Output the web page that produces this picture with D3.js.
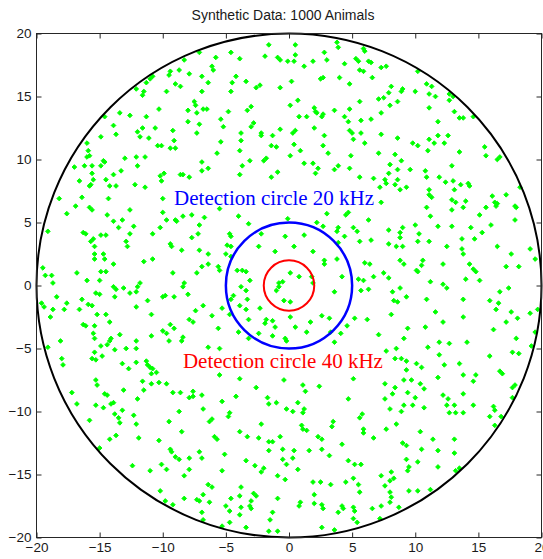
<!DOCTYPE html>
<html>
<head>
<meta charset="utf-8">
<script src="https://cdn.jsdelivr.net/npm/d3@7"></script>
<style>
  body { margin: 0; background: #ffffff; }
  svg { display: block; }
</style>
</head>
<body>
<div class="chart"></div>
<script>
// values
const title = 'Synthetic Data: 1000 Animals';
const xTicks = [-20, -15, -10, -5, 0, 5, 10, 15, 20];
const yTicks = [-20, -15, -10, -5, 0, 5, 10, 15, 20];
const domain = [-20, 20];

// survey area and the two detection circles (radius in data units)
const circleRadii = [20, 5, 2];
const circleColors = ['#000000', '#0000ff', '#ff0000'];
const circleWidths = [2, 2.5, 2];

const labelTexts = ['Detection circle 20 kHz', 'Detection circle 40 kHz'];
const labelX = [-9.1, -8.4];
const labelY = [7, -6];
const labelColors = ['#0000ff', '#ff0000'];

// animal positions [x, y]
const animals = [
  // upper left
  [-7.1,18.5],[-8.3,17.9],[-9.4,17.0],[-9.5,16.7],[-8.7,17.1],[-7.9,16.8],[-9.0,16.0],[-8.6,15.8],[-10.8,16.6],[-11.3,16.1],
  [-11.0,16.4],[-12.1,15.6],[-11.5,15.4],[-11.6,15.1],[-9.7,15.4],[-6.9,16.6],[-6.9,15.4],[-7.5,14.6],[-7.4,14.3],[-8.0,13.9],
  [-7.3,13.7],[-6.8,14.0],[-10.3,14.0],[-13.4,13.7],[-12.6,13.5],[-11.3,13.4],[-14.6,13.4],[-13.9,12.7],[-13.7,12.0],[-11.6,12.5],
  [-10.6,12.5],[-12.0,12.2],[-11.8,11.8],[-11.1,11.7],[-9.2,12.3],[-9.1,11.5],[-9.4,10.9],[-9.0,10.9],[-10.4,11.1],[-10.1,11.1],
  [-8.0,13.0],[-7.1,12.8],[-7.3,12.1],[-14.9,11.8],[-16.0,11.3],[-15.9,10.7],[-16.0,10.2],[-15.8,10.3],[-14.7,9.9],[-14.6,9.8],
  [-17.0,9.4],[-16.2,9.5],[-15.6,9.5],[-14.9,9.5],[-13.0,10.1],[-12.1,10.2],[-11.4,10.2],[-12.0,9.5],[-6.9,9.8],[-6.9,9.1],
  [-13.3,9.1],[-13.9,8.8],[-14.5,8.4],[-15.6,8.9],[-15.5,8.4],[-15.7,8.0],[-16.6,8.3],[-15.8,7.9],[-14.2,7.9],[-13.7,7.9],
  [-12.2,8.0],[-11.4,7.8],[-10.2,8.7],[-9.9,8.9],[-10.1,8.3],[-8.6,8.8],[-8.4,8.8],[-7.9,8.6],[-18.2,6.9],[-16.4,7.0],
  [-14.3,6.9],[-10.0,6.9],[-16.9,6.3],[-17.6,5.7],[-15.8,6.2],[-15.6,6.0],[-12.6,6.0],[-14.4,5.6],[-10.0,5.8],[-9.7,5.2],
  [-9.0,5.2],[-8.4,5.5],[-7.7,5.6],[-6.7,5.4],[-13.9,5.1],[-13.2,5.2],[-13.5,4.6],[-12.3,4.7],[-19.1,4.3],[-16.3,4.2],
  [-16.1,4.1],[-10.2,4.6],[-8.9,5.1],[-7.1,4.8],[-10.8,4.1],[-12.6,4.1],[-7.7,3.8],[-7.2,4.1],[-14.9,4.0],[-14.5,4.0],
  [-15.5,3.7],[-15.7,3.5],[-15.4,3.1],[-12.9,3.5],[-12.8,3.1],[-9.4,3.3],[-9.3,3.1],[-8.5,2.8],[-7.1,2.8],[-15.4,2.5],
  [-14.7,2.5],[-14.6,2.1],[-15.4,2.1],[-11.5,1.9],[-10.8,2.1],[-13.9,1.7],[-14.9,1.1],[-14.5,1.1],[-16.8,1.0],[-19.5,1.4],
  [-19.3,0.8],[-18.8,0.8],[-18.7,0.2],[-16.0,0.4],[-15.0,0.4],[-11.8,0.2],[-8.3,0.2],[-9.2,1.0],[-7.3,1.0],[-6.9,1.5],
  // upper middle
  [-1.6,19.1],[0.5,19.1],[3.8,19.3],[3.9,18.9],[5.9,18.8],[6.0,18.6],[-4.6,18.5],[-5.8,18.1],[-3.9,18.0],[-1.9,18.2],
  [-0.9,18.1],[-0.7,17.9],[-0.1,17.8],[0.4,17.8],[0.5,18.3],[1.9,17.8],[2.8,18.5],[3.0,17.9],[5.3,18.0],[5.5,17.8],
  [4.4,17.6],[6.3,17.8],[6.5,17.7],[-6.1,17.4],[-6.0,17.1],[1.2,17.4],[5.6,17.1],[5.9,17.0],[-4.2,16.6],[-3.4,16.2],
  [-6.4,16.1],[-4.5,16.1],[-2.6,15.7],[-2.3,15.9],[-4.6,15.4],[-0.7,15.7],[0.2,16.2],[2.5,16.4],[2.7,16.5],[4.0,16.5],
  [4.8,16.0],[6.6,16.5],[0.7,14.7],[0.1,14.3],[2.0,14.1],[5.6,14.6],[-3.0,14.2],[-3.3,13.9],[-4.8,13.8],[-6.5,14.0],
  [2.2,13.7],[2.1,13.8],[2.6,13.4],[2.7,13.6],[3.6,13.9],[4.8,14.0],[4.4,13.4],[0.8,13.4],[1.4,13.4],[5.7,13.1],
  [6.5,13.2],[-5.4,13.2],[-5.2,12.6],[-2.8,12.9],[-3.0,12.6],[-0.7,12.4],[0.5,12.3],[0.3,12.1],[2.0,12.5],[4.7,13.0],
  [4.8,12.3],[5.0,12.1],[5.1,11.6],[5.7,12.1],[-3.8,12.1],[-2.2,12.1],[-2.2,11.9],[-1.3,11.9],[-3.8,11.5],[-5.4,11.4],
  [0.4,11.2],[2.8,11.9],[2.7,11.1],[6.0,11.3],[-1.4,11.1],[-1.0,11.0],[-3.9,10.7],[-5.7,10.5],[-1.8,10.1],[-2.0,9.9],
  [-3.1,9.9],[0.1,10.3],[0.9,10.7],[1.9,9.7],[3.1,10.5],[4.9,10.3],[-3.7,9.5],[-3.9,8.8],[-6.4,9.3],[-0.9,9.0],
  [-1.4,8.6],[1.2,9.7],[2.3,9.3],[3.6,9.2],[3.9,9.5],[4.8,9.3],[5.6,8.6],[2.1,8.9],[6.7,8.5],[-5.5,6.1],
  [-4.0,5.5],[-3.2,4.9],[-0.1,5.3],[4.5,5.6],[4.7,5.8],[5.1,4.6],[6.3,5.2],[3.0,5.7],[2.2,5.0],[5.4,4.3],
  [6.5,3.6],[-4.7,4.1],[-4.6,3.9],[-4.9,3.2],[-4.6,3.1],[-2.2,4.1],[-0.3,3.9],[1.2,4.0],[2.7,4.7],[3.9,4.6],
  [3.8,4.3],[4.4,3.9],[5.6,3.5],[3.9,3.4],[-6.4,2.5],[-5.0,2.5],[-4.6,2.3],[-2.4,3.1],[-1.1,2.7],[0.4,3.1],
  [1.9,2.7],[2.8,2.0],[2.8,1.7],[3.8,2.1],[6.4,1.7],[6.0,1.8],[-6.4,1.7],[-5.6,1.5],[-5.5,1.2],[-4.1,1.2],
  [-3.7,1.2],[-3.4,1.1],[-3.1,0.4],[-0.8,0.2],[-0.5,0.3],[0.1,1.0],[0.8,0.7],[1.8,0.7],[1.9,0.2],[4.2,0.7],
  [5.5,0.5],[5.9,0.4],[6.7,0.7],
  // upper right
  [7.3,17.3],[7.7,17.4],[10.2,17.0],[8.1,15.8],[9.0,15.6],[8.9,15.4],[7.9,15.3],[7.5,14.9],[7.1,14.8],[10.0,15.4],
  [10.9,16.0],[11.3,15.8],[11.1,15.2],[11.6,15.0],[12.7,15.2],[12.7,14.7],[13.0,15.0],[8.6,14.6],[8.0,14.3],[7.3,13.7],
  [11.1,14.1],[13.1,13.8],[13.5,13.3],[13.8,13.3],[14.6,13.4],[11.8,13.0],[7.3,12.0],[8.6,11.7],[9.8,11.3],[10.2,11.1],
  [11.1,11.6],[11.5,11.3],[11.8,11.9],[12.6,11.9],[12.3,11.3],[11.0,10.7],[13.5,10.6],[15.5,11.0],[15.6,10.3],[16.5,10.0],
  [16.7,10.2],[7.1,10.5],[8.4,10.4],[8.9,9.9],[8.0,9.6],[7.9,8.9],[8.6,9.2],[9.6,9.2],[10.8,9.1],[10.9,8.6],
  [11.9,8.6],[12.9,9.5],[12.4,8.2],[13.0,8.3],[13.6,8.0],[14.2,8.1],[14.3,7.9],[8.6,8.4],[7.6,8.4],[7.7,8.1],
  [8.4,8.0],[8.8,7.6],[9.3,7.8],[7.2,7.8],[11.1,7.6],[11.1,7.2],[11.3,7.0],[13.1,7.6],[12.9,6.8],[13.2,6.6],
  [14.0,6.7],[13.8,6.2],[12.9,6.0],[10.9,6.2],[11.2,5.5],[7.3,6.6],[16.1,7.1],[16.3,6.6],[16.5,6.5],[16.4,6.3],
  [17.2,7.2],[17.9,6.3],[18.0,6.2],[18.3,7.8],[15.6,6.2],[15.1,5.6],[17.9,5.2],[16.0,4.8],[14.4,4.6],[12.9,4.7],
  [11.8,4.7],[10.0,4.8],[7.9,4.4],[9.0,4.6],[8.8,4.2],[8.8,3.8],[10.3,4.1],[11.1,3.5],[10.2,3.5],[7.9,3.3],
  [8.5,3.1],[9.0,3.1],[12.5,3.1],[13.7,3.7],[14.7,3.7],[15.3,4.2],[13.7,2.9],[13.8,2.5],[16.5,3.1],[17.6,2.5],
  [19.1,2.9],[19.5,2.1],[8.8,2.0],[9.1,1.7],[10.6,2.0],[10.5,1.6],[10.1,1.2],[10.2,1.1],[12.2,1.7],[14.3,1.7],
  [14.6,1.3],[14.8,1.1],[14.0,0.5],[15.1,0.4],[17.2,1.5],[18.2,1.5],[7.5,1.0],[7.9,0.6],[11.2,0.3],[12.2,0.1],
  // lower left
  [-18.4,-0.9],[-17.6,-1.4],[-19.6,-1.4],[-19.4,-1.7],[-18.7,-1.9],[-18.9,-2.5],[-17.8,-1.9],[-16.4,-1.1],[-15.9,-1.5],[-16.6,-1.9],
  [-15.6,-1.6],[-15.3,-0.6],[-15.0,-0.7],[-13.9,-0.1],[-13.7,-0.3],[-13.8,-0.9],[-13.1,-0.2],[-12.0,-0.1],[-12.1,-0.5],[-12.6,-0.6],
  [-15.2,-2.3],[-14.5,-2.3],[-14.2,-2.9],[-16.3,-3.1],[-16.1,-3.2],[-15.4,-3.2],[-15.5,-3.8],[-15.4,-4.2],[-11.2,-1.2],[-12.1,-1.7],
  [-10.9,-2.3],[-10.0,-0.9],[-9.8,-0.8],[-9.1,-0.9],[-8.0,-0.7],[-8.4,-0.1],[-7.4,-2.0],[-6.8,-1.6],[-7.9,-2.7],[-7.6,-2.9],
  [-9.4,-3.1],[-10.0,-3.6],[-9.7,-3.8],[-9.1,-3.4],[-8.4,-4.1],[-8.5,-4.4],[-9.5,-4.4],[-10.9,-4.0],[-18.1,-4.4],[-19.1,-4.9],
  [-18.0,-5.8],[-17.9,-6.3],[-14.9,-4.8],[-14.4,-4.7],[-14.2,-4.4],[-14.1,-4.2],[-13.4,-3.9],[-13.8,-5.1],[-12.9,-5.0],[-12.1,-4.4],
  [-12.1,-5.0],[-15.6,-5.8],[-15.3,-5.9],[-14.8,-5.6],[-15.4,-5.3],[-13.2,-6.2],[-12.1,-6.1],[-11.3,-6.0],[-11.2,-6.3],[-11.0,-6.5],
  [-10.8,-6.6],[-10.5,-6.9],[-10.9,-7.0],[-12.7,-6.6],[-15.3,-7.5],[-15.2,-7.9],[-11.6,-7.6],[-10.9,-7.8],[-10.3,-7.7],[-9.7,-7.8],
  [-11.5,-8.3],[-9.2,-8.5],[-8.6,-8.5],[-7.6,-8.4],[-7.6,-8.8],[-7.9,-8.9],[-6.9,-8.7],[-13.1,-8.3],[-17.2,-8.5],[-16.8,-9.4],
  [-14.6,-8.6],[-14.4,-8.7],[-15.3,-9.5],[-14.7,-9.7],[-14.1,-9.4],[-13.9,-9.3],[-13.8,-10.2],[-13.2,-9.9],[-12.0,-9.0],[-8.7,-10.0],
  [-6.8,-9.8],[-15.8,-10.7],[-13.5,-10.5],[-13.4,-10.9],[-12.3,-10.3],[-12.1,-11.0],[-9.5,-10.8],[-8.5,-11.6],[-13.7,-11.9],[-14.2,-12.2],
  [-11.9,-12.1],[-10.3,-12.3],[-15.0,-12.9],[-9.4,-13.0],[-9.3,-13.2],[-9.0,-13.6],[-8.7,-13.8],[-7.9,-13.7],[-6.9,-13.7],[-7.1,-13.2],
  [-12.4,-14.3],[-11.0,-14.7],[-10.1,-14.2],[-9.7,-14.6],[-7.9,-14.6],[-8.3,-15.1],[-10.2,-16.3],[-9.8,-17.1],[-9.2,-17.4],[-8.3,-16.9],
  [-7.3,-17.0],[-7.1,-17.1],[-6.8,-16.6],[-6.9,-18.0],[-6.8,-18.6],
  // lower middle
  [-3.8,-0.1],[-3.4,-0.4],[-1.0,-0.4],[-0.8,-0.1],[-0.4,-1.2],[0.1,-1.3],[3.6,-0.5],[5.7,-0.4],[6.3,-0.3],[-4.4,-0.8],
  [-4.6,-1.1],[-3.3,-1.1],[-2.3,-1.8],[-3.4,-1.9],[-3.9,-1.6],[-5.3,-1.8],[-6.1,-2.4],[-5.6,-3.4],[-4.7,-2.3],[-1.8,-2.7],
  [-1.3,-2.8],[-1.9,-3.0],[-1.1,-3.3],[0.1,-2.5],[0.5,-3.3],[1.4,-3.7],[2.6,-2.4],[1.7,-2.9],[3.2,-2.6],[3.3,-3.7],
  [4.1,-3.8],[3.6,-4.5],[4.6,-3.2],[5.2,-2.6],[6.2,-2.7],[-3.2,-2.7],[-4.0,-3.7],[-3.2,-4.2],[-2.4,-3.8],[-1.3,-4.0],
  [-0.3,-4.2],[-0.2,-4.4],[-6.4,-4.9],[-5.5,-5.0],[-5.5,-7.1],[-3.9,-7.4],[-2.6,-8.1],[-0.4,-7.5],[1.1,-7.9],[1.3,-8.4],
  [2.4,-8.0],[5.1,-7.4],[4.7,-9.0],[-5.3,-9.2],[-4.2,-8.8],[-1.7,-8.9],[-1.6,-9.4],[-1.0,-9.3],[-0.2,-9.8],[0.3,-10.0],
  [0.7,-9.3],[1.2,-9.8],[1.1,-10.1],[-4.7,-10.1],[-4.8,-10.4],[-6.1,-10.6],[-6.3,-10.8],[-2.2,-11.0],[1.0,-11.1],[1.1,-11.4],
  [1.4,-11.5],[3.5,-10.8],[3.4,-11.2],[5.6,-10.5],[5.8,-10.2],[-3.9,-11.6],[-5.9,-12.0],[-5.7,-12.2],[-3.3,-12.0],[-2.4,-12.1],
  [-1.6,-12.4],[-1.3,-12.4],[-0.7,-12.0],[2.3,-12.0],[2.6,-12.2],[4.2,-12.6],[5.9,-11.4],[5.9,-11.7],[6.7,-12.1],[-1.6,-13.1],
  [-0.5,-13.0],[0.4,-13.1],[0.3,-13.7],[-0.5,-13.8],[-0.2,-14.2],[1.6,-13.1],[2.6,-13.0],[3.2,-13.5],[4.7,-13.9],[5.2,-14.2],
  [5.7,-14.2],[-3.4,-13.9],[-5.1,-13.4],[-5.3,-14.7],[-2.7,-14.3],[-2.0,-14.5],[-2.2,-14.8],[0.7,-14.6],[-0.9,-15.1],[-0.3,-15.4],
  [-6.4,-15.8],[-6.1,-16.0],[-3.8,-16.0],[-3.9,-16.7],[-4.6,-16.9],[-2.8,-16.5],[-2.6,-16.7],[-3.0,-17.1],[1.9,-15.6],[2.5,-15.6],
  [3.3,-15.8],[4.5,-15.6],[5.1,-15.3],[5.5,-15.8],[5.6,-16.4],[2.0,-16.6],[-0.9,-16.9],[0.9,-17.2],[0.8,-17.5],[-6.3,-17.2],
  [-5.0,-17.5],[-3.8,-17.6],[-4.7,-17.9],[-3.1,-17.5],[-3.0,-17.7],[-1.3,-18.0],[2.0,-17.3],[2.6,-17.4],[2.7,-17.7],[4.2,-17.5],
  [4.3,-17.7],[3.9,-18.0],[5.1,-17.6],[5.2,-17.9],[6.6,-17.7],[-3.9,-18.2],[-4.7,-18.8],[-5.3,-19.1],[-3.4,-19.2],[-1.5,-18.6],
  [-0.9,-19.5],[2.6,-19.2],[3.6,-19.4],[5.1,-18.5],[5.4,-18.8],[-1.6,-19.5],
  // lower right
  [8.2,-0.5],[8.8,-0.2],[12.5,-0.2],[8.3,-1.2],[8.6,-1.3],[9.3,-0.9],[10.9,-1.1],[8.1,-2.3],[7.1,-3.9],[9.4,-3.4],
  [10.8,-3.3],[11.6,-2.1],[12.2,-2.9],[13.8,-1.1],[13.8,-2.5],[15.9,-1.2],[16.4,-1.9],[16.6,-1.4],[16.7,-0.5],[17.4,-0.2],
  [17.6,-2.1],[18.1,-2.6],[17.2,-2.9],[19.1,-2.2],[19.7,-1.9],[19.5,-3.7],[16.2,-3.5],[18.0,-4.2],[9.1,-4.2],[11.0,-4.9],
  [11.9,-4.5],[12.7,-4.6],[14.1,-4.5],[11.9,-5.5],[12.3,-6.3],[13.5,-6.2],[15.9,-5.6],[17.7,-5.3],[18.2,-5.4],[19.2,-4.8],
  [7.7,-5.2],[8.5,-5.0],[8.4,-5.8],[8.9,-5.8],[9.3,-6.0],[10.1,-6.2],[10.5,-6.5],[9.3,-6.7],[11.8,-7.3],[13.8,-7.1],
  [14.8,-7.1],[14.6,-7.6],[16.7,-6.8],[16.9,-7.0],[7.6,-7.8],[9.1,-7.5],[9.7,-7.5],[10.4,-7.8],[10.7,-8.2],[8.4,-8.1],
  [8.2,-8.6],[9.4,-8.5],[10.0,-8.9],[12.2,-8.7],[12.6,-9.0],[12.5,-9.5],[13.1,-9.5],[12.7,-10.1],[13.2,-10.1],[13.8,-8.6],
  [13.8,-10.1],[14.6,-9.5],[16.2,-9.6],[16.3,-9.9],[15.9,-10.4],[16.8,-10.4],[17.7,-8.1],[17.9,-7.9],[17.7,-8.9],[7.6,-9.0],
  [8.0,-9.8],[8.9,-10.0],[9.1,-9.5],[9.8,-9.5],[10.7,-9.7],[7.7,-11.4],[8.5,-11.0],[10.4,-11.6],[11.4,-12.2],[13.1,-12.2],
  [9.0,-12.5],[9.3,-12.7],[10.5,-13.0],[11.8,-13.1],[13.1,-13.3],[16.3,-11.1],[9.3,-13.8],[10.2,-14.0],[9.5,-14.4],[9.4,-14.7],
  [11.8,-14.4],[7.3,-15.1],[8.1,-14.8],[8.3,-15.3],[8.0,-15.5],[7.6,-15.9],[8.0,-16.4],[8.1,-16.8],[7.3,-17.5],[8.0,-17.2],
  [9.5,-16.3],[10.2,-16.3],[11.2,-16.2],[13.2,-14.7],[13.5,-14.5],[8.7,-17.6],[7.2,-18.5]
];

const WIDTH = 543, HEIGHT = 559;
const MARGINS = {top: 33.5, right: 1.5, bottom: 21.5, left: 36.5};

const svg = d3.select('.chart')
  .append('svg')
  .attr('width', WIDTH)
  .attr('height', HEIGHT)
  .style('background', '#ffffff');

const xRange = d3.scaleLinear()
  .domain(domain)
  .range([MARGINS.left, WIDTH - MARGINS.right]);
const yRange = d3.scaleLinear()
  .domain(domain)
  .range([HEIGHT - MARGINS.bottom, MARGINS.top]);

// animals, small diamond-ish blobs like the matlab markers
const marker = d3.symbol().type(d3.symbolSquare).size(11);
svg.append('g')
  .selectAll('path')
  .data(animals)
  .enter()
  .append('path')
  .attr('d', marker)
  .attr('transform', d => 'translate(' + xRange(d[0]) + ',' + yRange(d[1]) + ') rotate(45)')
  .attr('fill', '#00ff00')
  .attr('stroke', '#00ff00')
  .attr('stroke-width', 0.9);

// circles
svg.append('g')
  .selectAll('ellipse')
  .data(circleRadii)
  .enter()
  .append('ellipse')
  .attr('cx', xRange(0))
  .attr('cy', yRange(0))
  .attr('rx', d => xRange(d) - xRange(0))
  .attr('ry', d => yRange(0) - yRange(d))
  .attr('fill', 'none')
  .attr('stroke', (d, i) => circleColors[i])
  .attr('stroke-width', (d, i) => circleWidths[i]);

// labels
svg.append('g')
  .selectAll('text')
  .data(labelTexts)
  .enter()
  .append('text')
  .text(d => d)
  .attr('x', (d, i) => xRange(labelX[i]))
  .attr('y', (d, i) => yRange(labelY[i]))
  .attr('dy', '0.35em')
  .style('font-family', '"Liberation Serif", "Times New Roman", serif')
  .style('font-size', '21px')
  .style('fill', (d, i) => labelColors[i]);

// axes, ticks pointing inward
const tickFont = g => {
  g.select('.domain').remove();
  g.selectAll('line').attr('stroke', '#262626');
  g.selectAll('text')
    .style('font-family', '"Liberation Sans", Arial, sans-serif')
    .style('font-size', '13.5px')
    .style('fill', '#1a1a1a');
};

svg.append('g')
  .attr('transform', 'translate(0,' + (HEIGHT - MARGINS.bottom) + ')')
  .call(d3.axisBottom(xRange).tickValues(xTicks).tickSizeInner(-5).tickSizeOuter(0).tickPadding(5).tickFormat(d3.format('d')))
  .call(tickFont);
svg.append('g')
  .attr('transform', 'translate(0,' + MARGINS.top + ')')
  .call(d3.axisTop(xRange).tickValues(xTicks).tickSizeInner(-5).tickSizeOuter(0).tickFormat(''))
  .call(tickFont);
svg.append('g')
  .attr('transform', 'translate(' + MARGINS.left + ',0)')
  .call(d3.axisLeft(yRange).tickValues(yTicks).tickSizeInner(-5).tickSizeOuter(0).tickPadding(5).tickFormat(d3.format('d')))
  .call(tickFont);
svg.append('g')
  .attr('transform', 'translate(' + (WIDTH - MARGINS.right) + ',0)')
  .call(d3.axisRight(yRange).tickValues(yTicks).tickSizeInner(-5).tickSizeOuter(0).tickFormat(''))
  .call(tickFont);

// axes box
svg.append('rect')
  .attr('x', MARGINS.left)
  .attr('y', MARGINS.top)
  .attr('width', WIDTH - MARGINS.left - MARGINS.right)
  .attr('height', HEIGHT - MARGINS.top - MARGINS.bottom)
  .attr('fill', 'none')
  .attr('stroke', '#262626')
  .attr('stroke-width', 1);

// title
svg.append('text')
  .text(title)
  .attr('x', (xRange(-20) + xRange(20)) / 2 - 6)
  .attr('y', 20)
  .attr('text-anchor', 'middle')
  .style('font-family', '"Liberation Sans", Arial, sans-serif')
  .style('font-size', '14px')
  .style('fill', '#1a1a1a');
</script>
</body>
</html>
